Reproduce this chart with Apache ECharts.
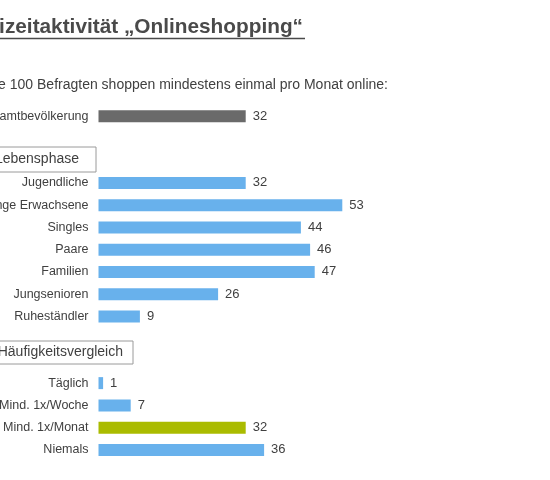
<!DOCTYPE html>
<html>
<head>
<meta charset="utf-8">
<script src="https://cdn.jsdelivr.net/npm/echarts@6/dist/echarts.min.js"></script>
<style>
  html, body { margin: 0; padding: 0; background: #fff; }
  #chart { width: 550px; height: 480px; }
</style>
</head>
<body>
<div id="chart"></div>
<script>
// data
var totalLabel = ['Gesamtbevölkerung'];
var totalValues = [32];
var phaseLabels = ['Jugendliche', 'Junge Erwachsene', 'Singles', 'Paare', 'Familien', 'Jungsenioren', 'Ruheständler'];
var phaseValues = [32, 53, 44, 46, 47, 26, 9];
var freqLabels = ['Täglich', 'Mind. 1x/Woche', 'Mind. 1x/Monat', 'Niemals'];
var freqValues = [1, 7, 32, 36];

var GRAY = '#6a6a6a';
var BLUE = '#68b1ec';
var GREEN = '#aabb00';
var TEXT = '#404040';
var FONT = '"Liberation Sans", Arial, sans-serif';

// one category axis, with empty slots for the spacing and the group headers
var categories = [].concat(totalLabel, ['', ' '], phaseLabels, ['  ', '   '], freqLabels);
var data = [];
totalValues.forEach(function (v) {
  data.push({ value: v, itemStyle: { color: GRAY } });
});
data.push(null, null);
phaseValues.forEach(function (v) {
  data.push({ value: v, itemStyle: { color: BLUE } });
});
data.push(null, null);
freqValues.forEach(function (v, i) {
  data.push({ value: v, itemStyle: { color: freqLabels[i] === 'Mind. 1x/Monat' ? GREEN : BLUE } });
});

// framed group header, the left part runs off the page like in the original
function headerBox(text, top, bottom, textRight, boxRight) {
  return {
    type: 'group',
    children: [
      {
        type: 'rect',
        shape: { x: -10, y: top, width: boxRight + 10, height: bottom - top },
        style: { fill: '#fff', stroke: '#9a9a9a', lineWidth: 1 }
      },
      {
        type: 'text',
        x: textRight,
        y: (top + bottom) / 2,
        style: {
          text: text,
          fill: TEXT,
          font: '14px ' + FONT,
          textAlign: 'right',
          textVerticalAlign: 'middle'
        }
      }
    ]
  };
}

var chart = echarts.init(document.getElementById('chart'));
chart.setOption({
  animation: false,
  grid: {
    left: 98.5, right: 37.5, top: 105, bottom: 19,
    containLabel: false,
    outerBoundsMode: 'none'
  },
  xAxis: {
    type: 'value',
    min: 0,
    max: 90,
    show: false
  },
  yAxis: {
    type: 'category',
    inverse: true,
    data: categories,
    axisLine: { show: false },
    axisTick: { show: false },
    axisLabel: {
      color: TEXT,
      fontSize: 12.5,
      fontFamily: FONT,
      margin: 10
    }
  },
  series: [{
    type: 'bar',
    barWidth: 12,
    data: data,
    label: {
      show: true,
      position: 'right',
      distance: 7,
      color: TEXT,
      fontSize: 13,
      fontFamily: FONT
    }
  }],
  graphic: [
    {
      type: 'text',
      x: 303,
      y: 37.5,
      style: {
        text: 'Freizeitaktivität „Onlineshopping“',
        fill: '#4a4a4a',
        font: 'bold 20.8px ' + FONT,
        textAlign: 'right',
        textVerticalAlign: 'bottom'
      }
    },
    {
      type: 'line',
      shape: { x1: 0, y1: 38.5, x2: 305, y2: 38.5 },
      style: { stroke: '#4a4a4a', lineWidth: 1.5 }
    },
    {
      type: 'text',
      x: 388,
      y: 85,
      style: {
        text: 'Je 100 Befragten shoppen mindestens einmal pro Monat online:',
        fill: TEXT,
        font: '14px ' + FONT,
        textAlign: 'right',
        textVerticalAlign: 'middle'
      }
    },
    headerBox('Lebensphase', 147, 172, 79, 96),
    headerBox('Häufigkeitsvergleich', 341, 364, 123, 133)
  ]
});
</script>
</body>
</html>
